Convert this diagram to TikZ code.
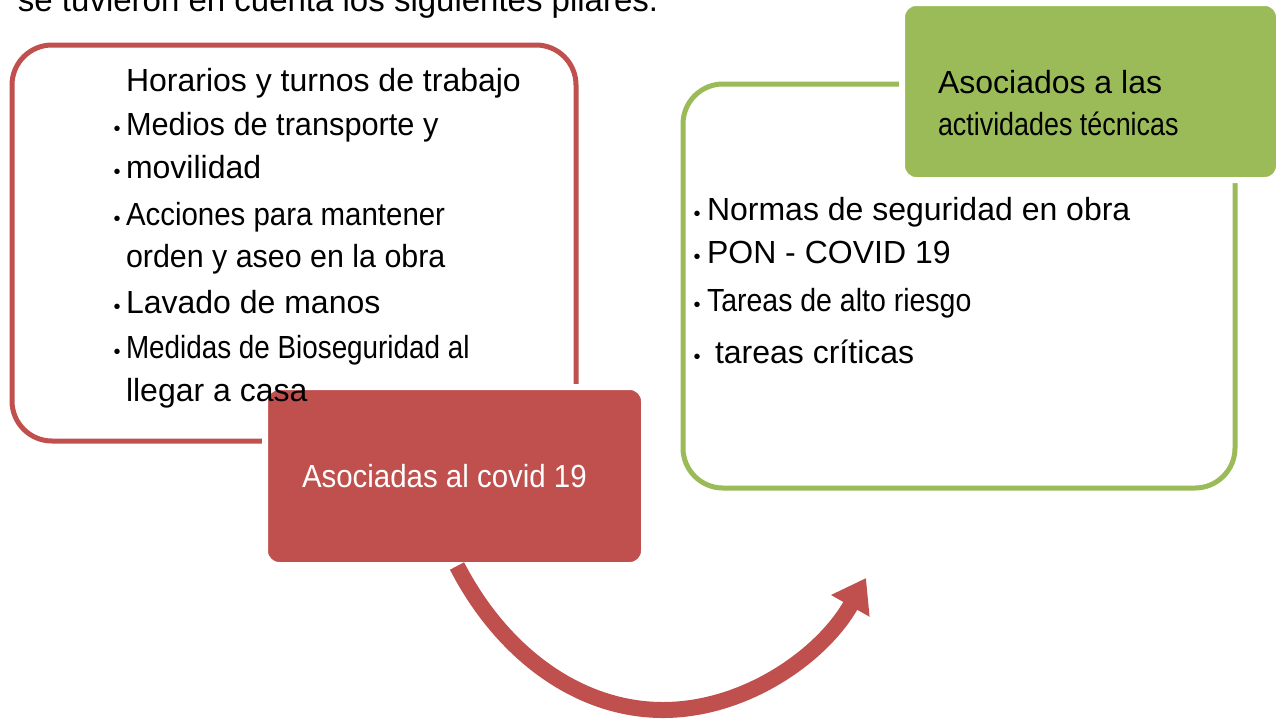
\documentclass[tikz,border=0pt]{standalone}
\usepackage{fontspec}
\setmainfont{Liberation Sans}
\usepackage{graphicx}
\usetikzlibrary{arrows.meta}
\definecolor{cred}{HTML}{C0504D}
\definecolor{cgreen}{HTML}{9BBB59}
\newcommand\hsq[2]{\scalebox{#1}[1]{#2}}
\tikzset{
  txt/.style={anchor=base west, inner sep=0pt, outer sep=0pt, font=\fontsize{16}{19}\selectfont},
  wtxt/.style={txt, text=white},
  bul/.style={inner sep=0pt, outer sep=0pt, font=\fontsize{10}{11}\selectfont},
  redframe/.style={draw=cred, line width=2.5pt, rounded corners=20pt, minimum width=282pt, minimum height=198pt, inner sep=0pt},
  greenframe/.style={draw=cgreen, line width=2.5pt, rounded corners=20pt, minimum width=276pt, minimum height=202pt, inner sep=0pt},
  redbox/.style={fill=cred, draw=white, line width=3pt, rounded corners=7pt, minimum width=189.5pt, minimum height=89pt, inner sep=0pt},
  greenbox/.style={fill=cgreen, draw=white, line width=3pt, rounded corners=7pt, minimum width=188.5pt, minimum height=88.5pt, inner sep=0pt},
  bigarrow/.style={draw=cred, line width=8pt, -{Triangle[length=16pt,width=21pt]}},
}
\begin{document}
\begin{tikzpicture}[x=0.5pt,y=-0.5pt]
\useasboundingbox (0,0) rectangle (1278,719);
\clip (0,0) rectangle (1278,719);
\fill[white] (0,0) rectangle (1278,719);

% intro text (cut off at top, as in the reference)
\node[txt, font=\fontsize{16.5}{19}\selectfont] (intro) at (18,11) {se tuvieron en cuenta los siguientes pilares.};

% left group
\node[redframe] (lframe) at (294,243) {};
\node[redbox] (rbox) at (454.5,476) {};
\node[wtxt] (rlabel) at (302,487) {\hsq{0.92}{Asociadas al covid 19}};

\node[txt] (l1) at (126,91) {Horarios y turnos de trabajo};
\node[txt] (l2) at (126,135) {\hsq{0.96}{Medios de transporte y}};
\node[txt] (l3) at (126,178) {movilidad};
\node[txt] (l4) at (126,225) {\hsq{0.92}{Acciones para mantener}};
\node[txt] (l5) at (126,267) {\hsq{0.95}{orden y aseo en la obra}};
\node[txt] (l6) at (126,313) {Lavado de manos};
\node[txt] (l7) at (126,358) {\hsq{0.87}{Medidas de Bioseguridad al}};
\node[txt] (l8) at (126,401) {llegar a casa};

\node[bul] (b2) at (117,131) {•};
\node[bul] (b3) at (117,174) {•};
\node[bul] (b4) at (117,221) {•};
\node[bul] (b6) at (117,309) {•};
\node[bul] (b7) at (117,354) {•};

% right group
\node[greenframe] (rframe) at (959,286) {};
\node[greenbox] (gbox) at (1090.5,91.5) {};
\node[txt] (g1) at (938,93) {Asociados a las};
\node[txt] (g2) at (938,135) {\hsq{0.84}{actividades técnicas}};

\node[txt] (r1) at (707,220) {Normas de seguridad en obra};
\node[txt] (r2) at (707,263) {PON - COVID 19};
\node[txt] (r3) at (707,311) {\hsq{0.89}{Tareas de alto riesgo}};
\node[txt] (r4) at (715,363) {tareas críticas};

\node[bul] (c1) at (697,216) {•};
\node[bul] (c2) at (697,259) {•};
\node[bul] (c3) at (697,307) {•};
\node[bul] (c4) at (697,359) {•};

% curved arrow
\coordinate (astart) at (457,566);
\coordinate (atip) at (866,578);
\draw[bigarrow] (astart) .. controls (503,655) and (580,710) .. (663,710) .. controls (745,710) and (822,656) .. (atip);
\end{tikzpicture}
\end{document}
